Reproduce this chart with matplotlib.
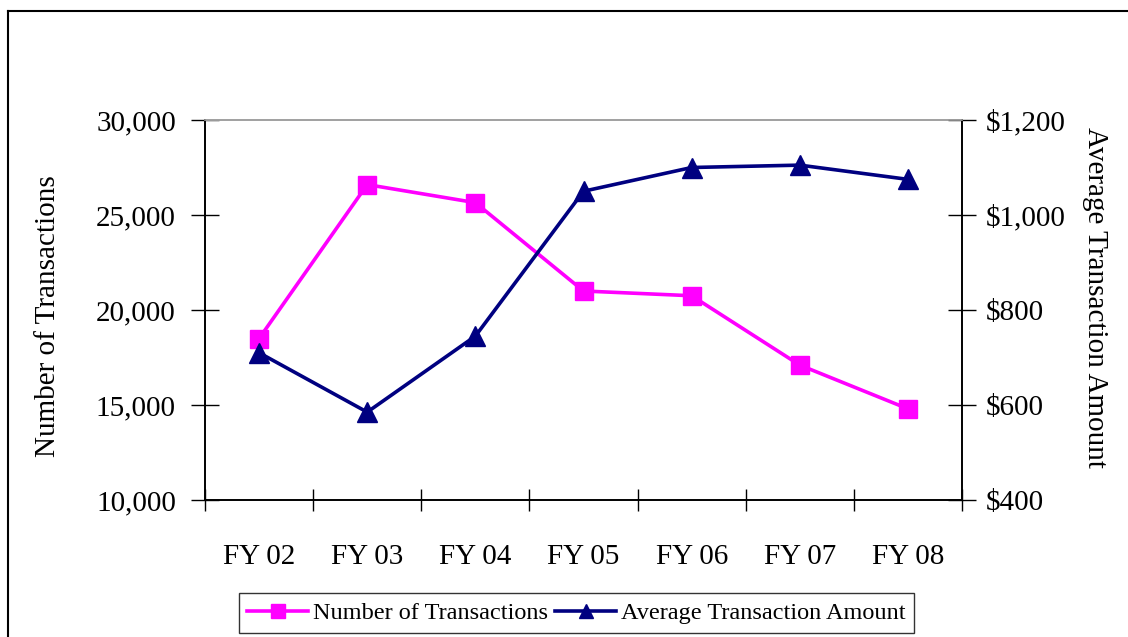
import matplotlib
matplotlib.use("Agg")
import matplotlib.pyplot as plt
from matplotlib.lines import Line2D
from matplotlib.ticker import FixedLocator, FuncFormatter

plt.rcParams["font.family"] = ["Liberation Serif", "DejaVu Serif"]

years = ["FY 02", "FY 03", "FY 04", "FY 05", "FY 06", "FY 07", "FY 08"]
num_transactions = [18500, 26600, 25650, 21000, 20750, 17100, 14800]
avg_amount = [710, 585, 745, 1050, 1100, 1105, 1075]

pink = "#FF00FF"
navy = "#000080"

fig = plt.figure(figsize=(11.28, 6.37), dpi=100)
ax = fig.add_axes([205 / 1128, 1 - 500 / 637, 757 / 1128, 380 / 637])
ax2 = ax.twinx()

x = list(range(len(years)))
ax.plot(x, num_transactions, color=pink, lw=2.6, marker="s", ms=12.5,
        label="Number of Transactions")
ax2.plot(x, avg_amount, color=navy, lw=2.6, marker="^", ms=14,
         label="Average Transaction Amount")

ax.set_xlim(-0.5, len(years) - 0.5)
ax.set_ylim(10000, 30000)
ax2.set_ylim(400, 1200)
ax.set_yticks([10000, 15000, 20000, 25000, 30000])
ax2.set_yticks([400, 600, 800, 1000, 1200])
ax.yaxis.set_major_formatter(FuncFormatter(lambda v, p: f"{v:,.0f}"))
ax2.yaxis.set_major_formatter(FuncFormatter(lambda v, p: f"${v:,.0f}"))

ax.set_xticks(x)
ax.set_xticklabels(years)
ax.xaxis.set_minor_locator(FixedLocator([i - 0.5 for i in range(len(years) + 1)]))
ax.tick_params(axis="x", which="major", length=0, pad=32, labelsize=21)
ax.tick_params(axis="x", which="minor", direction="inout", length=16, width=1)
ax.tick_params(axis="y", direction="inout", length=20, width=1, pad=11, labelsize=21)
ax2.tick_params(axis="y", direction="inout", length=20, width=1, pad=7, labelsize=21)

for a in (ax, ax2):
    for side in ("left", "right", "bottom"):
        a.spines[side].set_color("black")
        a.spines[side].set_linewidth(1.2)
    a.spines["top"].set_color("#A0A0A0")
    a.spines["top"].set_linewidth(1.2)

ax.set_ylabel("Number of Transactions", fontsize=21, va="center")
ax.yaxis.set_label_coords(-0.207, 0.484)
ax2.set_ylabel("Average Transaction Amount", fontsize=21, rotation=-90, va="center")
ax2.yaxis.set_label_coords(1.176, 0.534)

# outer chart border (right and bottom lie outside the picture)
fig.add_artist(Line2D([8 / 1128, 1.01], [1 - 10.5 / 637] * 2, color="black", lw=1.5))
fig.add_artist(Line2D([8 / 1128] * 2, [-0.01, 1 - 10.5 / 637], color="black", lw=1.5))

h1, l1 = ax.get_legend_handles_labels()
h2, l2 = ax2.get_legend_handles_labels()
leg = fig.legend(h1 + h2, l1 + l2, loc="center", bbox_to_anchor=(0.511, 1 - 613 / 637),
                 ncol=2, fontsize=17.5, frameon=True, fancybox=False, edgecolor="black",
                 handlelength=2.5, handletextpad=0.2, columnspacing=0.3,
                 borderpad=0.35, markerscale=0.75)
leg.get_frame().set_linewidth(1.0)

fig.savefig("out.png", dpi=100)
